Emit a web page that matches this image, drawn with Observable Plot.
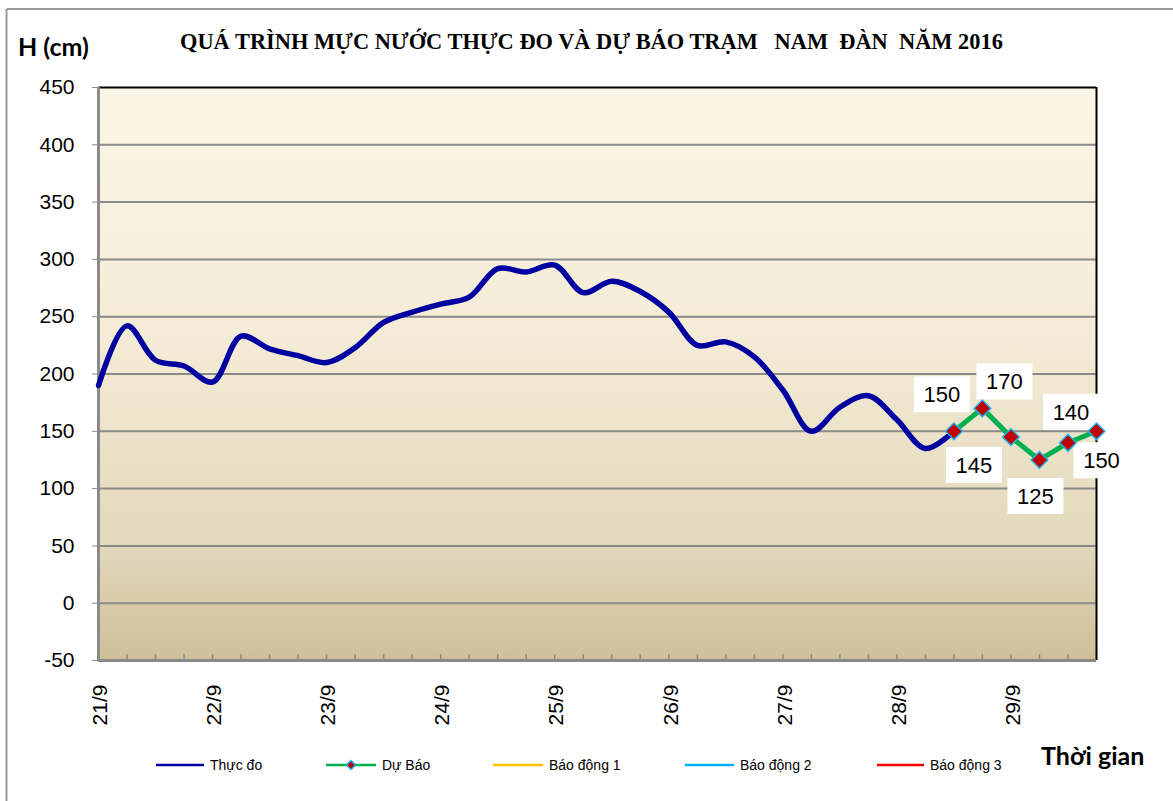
<!DOCTYPE html>
<html><head><meta charset="utf-8">
<script src="https://cdn.jsdelivr.net/npm/d3@7"></script>
<script src="https://cdn.jsdelivr.net/npm/@observablehq/plot@0.6"></script>
<style>
body{margin:0;background:#fff;}
#wrap{position:relative;width:1173px;height:801px;overflow:hidden;font-family:"Liberation Sans",Arial,sans-serif;}
#chart{position:absolute;left:0;top:0;}
#overlay{position:absolute;left:0;top:0;pointer-events:none;}
</style>
</head><body>
<div id="wrap"><div id="chart"></div><svg id="overlay" width="1173" height="801"></svg></div>
<script>
// ---------------- data ----------------
const titleText = "QUÁ TRÌNH MỰC NƯỚC THỰC ĐO VÀ DỰ BÁO TRẠM   NAM  ĐÀN  NĂM 2016";
const yAxisTitle = "H (cm)";
const xAxisTitle = "Thời gian";
const dayLabels = ["21/9","22/9","23/9","24/9","25/9","26/9","27/9","28/9","29/9"];
const stepsPerDay = 4; // 6-hourly observations
const observed = [190, 242, 212, 207, 193, 233, 222, 216, 210, 223, 245, 254, 261, 267, 292, 289, 295, 271, 281, 272, 254, 225, 228, 215, 186, 150, 171, 181, 160, 135, 150];
const forecastStart = 30;
const forecast = [150, 170, 145, 125, 140, 150];
const yTicks = [-50, 0, 50, 100, 150, 200, 250, 300, 350, 400, 450];
const legendNames = ["Thực đo", "Dự Báo", "Báo động 1", "Báo động 2", "Báo động 3"];

// ---------------- build ----------------
const nPoints = forecastStart + forecast.length;
const obsData = observed.map((v, i) => ({i, v}));
const fcData = forecast.map((v, k) => ({i: forecastStart + k, v}));
const dayData = dayLabels.map((label, k) => ({i: k * stepsPerDay, label}));
const gridVals = yTicks.filter(v => v > yTicks[0] && v < yTicks[yTicks.length - 1]);

const W = 1173, H = 730;
const boxSymbol = {draw(ctx) { ctx.rect(-28, -18, 56, 36); }};
const labelOffsets = [[-12, -37], [22, -27], [-37, 28], [-4, 36], [3, -31], [5, 29]];

function background(index, scales, values, dim) {
  const g = d3.create("svg:g");
  const lg = g.append("defs").append("linearGradient")
    .attr("id", "bgGrad").attr("x1", 0).attr("y1", 0).attr("x2", 0).attr("y2", 1);
  [[0, "#fcf6e6"], [0.45, "#f3ebd5"], [0.8, "#e2d8bb"], [1, "#cfbf99"]].forEach(([o, c]) =>
    lg.append("stop").attr("offset", o).attr("stop-color", c));
  g.append("rect")
    .attr("x", dim.marginLeft).attr("y", dim.marginTop)
    .attr("width", dim.width - dim.marginLeft - dim.marginRight)
    .attr("height", dim.height - dim.marginTop - dim.marginBottom)
    .attr("fill", "url(#bgGrad)");
  return g.node();
}

const labelMarks = fcData.flatMap((d, k) => {
  const [dx, dy] = labelOffsets[k];
  return [
    Plot.dot([d], {x: "i", y: "v", symbol: boxSymbol, fill: "white", stroke: "none", dx, dy}),
    Plot.text([d], {x: "i", y: "v", text: e => String(e.v), dx, dy: dy + 1, fontSize: 22, fill: "#000"})
  ];
});

const chart = Plot.plot({
  width: W, height: H,
  marginLeft: 98, marginRight: W - 1096, marginTop: 87, marginBottom: H - 660,
  style: {fontFamily: '"Liberation Sans", Arial, sans-serif', background: "transparent", overflow: "visible"},
  x: {type: "linear", domain: [0, nPoints - 1], axis: null},
  y: {domain: [yTicks[0], yTicks[yTicks.length - 1]], axis: null},
  marks: [
    background,
    Plot.ruleY(gridVals, {stroke: "#8a8a8a", strokeWidth: 2}),
    Plot.ruleX(d3.range(nPoints), {x: d => d, y1: yTicks[0], y2: yTicks[0] + 5.2, stroke: "#8a8a8a", strokeWidth: 1.5}),
    Plot.ruleY([yTicks[yTicks.length - 1]], {stroke: "#000", strokeWidth: 2}),
    Plot.ruleX([nPoints - 1], {stroke: "#000", strokeWidth: 2}),
    Plot.ruleX([0], {stroke: "#8a8a8a", strokeWidth: 3}),
    Plot.ruleY([yTicks[0]], {stroke: "#8a8a8a", strokeWidth: 3}),
    Plot.axisY({ticks: yTicks, label: null, tickSize: 6, tickPadding: 18, fontSize: 21, stroke: "#8a8a8a", fill: "#000", tickFormat: d => String(d)}),
    Plot.text(dayData, {x: "i", y: () => yTicks[0], text: "label", rotate: -90, textAnchor: "end", dy: 24, dx: 2, fontSize: 21, fill: "#000"}),
    Plot.line(obsData, {x: "i", y: "v", stroke: "#0000a0", strokeWidth: 5.5, curve: "catmull-rom"}),
    Plot.line(fcData, {x: "i", y: "v", stroke: "#00b050", strokeWidth: 5}),
    ...labelMarks,
    Plot.dot(fcData, {x: "i", y: "v", symbol: "diamond2", r: 7.5, fill: "#c00000", stroke: "#1fb0ea", strokeWidth: 1.5})
  ]
});
document.getElementById("chart").appendChild(chart);

// ---------------- annotations (title, axis titles, legend) ----------------
const ov = d3.select("#overlay");
ov.append("line").attr("x1", 6.5).attr("y1", 9).attr("x2", 6.5).attr("y2", 801).attr("stroke", "#9a9a9a").attr("stroke-width", 2);
ov.append("line").attr("x1", 6.5).attr("y1", 9).attr("x2", 1173).attr("y2", 9).attr("stroke", "#9a9a9a").attr("stroke-width", 2);
ov.append("text").attr("x", 180).attr("y", 49).style("white-space", "pre")
  .attr("font-family", '"Liberation Serif", "Times New Roman", serif').attr("font-weight", "bold").attr("font-size", 22.4)
  .text(titleText);
ov.append("text").attr("x", 18).attr("y", 56)
  .attr("font-family", 'Lato, "Open Sans", sans-serif').attr("font-weight", "bold").attr("font-size", 25)
  .text(yAxisTitle);
ov.append("text").attr("x", 1041).attr("y", 765)
  .attr("font-family", 'Lato, "Open Sans", sans-serif').attr("font-weight", "bold").attr("font-size", 25)
  .text(xAxisTitle);

const legendColors = ["#0000a0", "#00b050", "#ffc000", "#00b0f0", "#ff0000"];
const legendLineX = [156, 326, 493, 685, 877];
const legendLineW = [48, 50, 50, 49, 47];
const legendY = 765;
legendNames.forEach((name, k) => {
  const x = legendLineX[k], w = legendLineW[k];
  ov.append("line").attr("x1", x).attr("x2", x + w).attr("y1", legendY).attr("y2", legendY)
    .attr("stroke", legendColors[k]).attr("stroke-width", 2.5);
  if (k === 1) {
    const cx = x + w / 2;
    ov.append("path").attr("d", `M${cx},${legendY - 4.5}L${cx + 4.5},${legendY}L${cx},${legendY + 4.5}L${cx - 4.5},${legendY}Z`)
      .attr("fill", "#c00000").attr("stroke", "#1fb0ea").attr("stroke-width", 1.5);
  }
  ov.append("text").attr("x", x + w + 6).attr("y", legendY + 5)
    .attr("font-family", '"Liberation Sans", Arial, sans-serif').attr("font-size", 14).attr("fill", "#000")
    .text(name);
});
</script>
</body></html>
